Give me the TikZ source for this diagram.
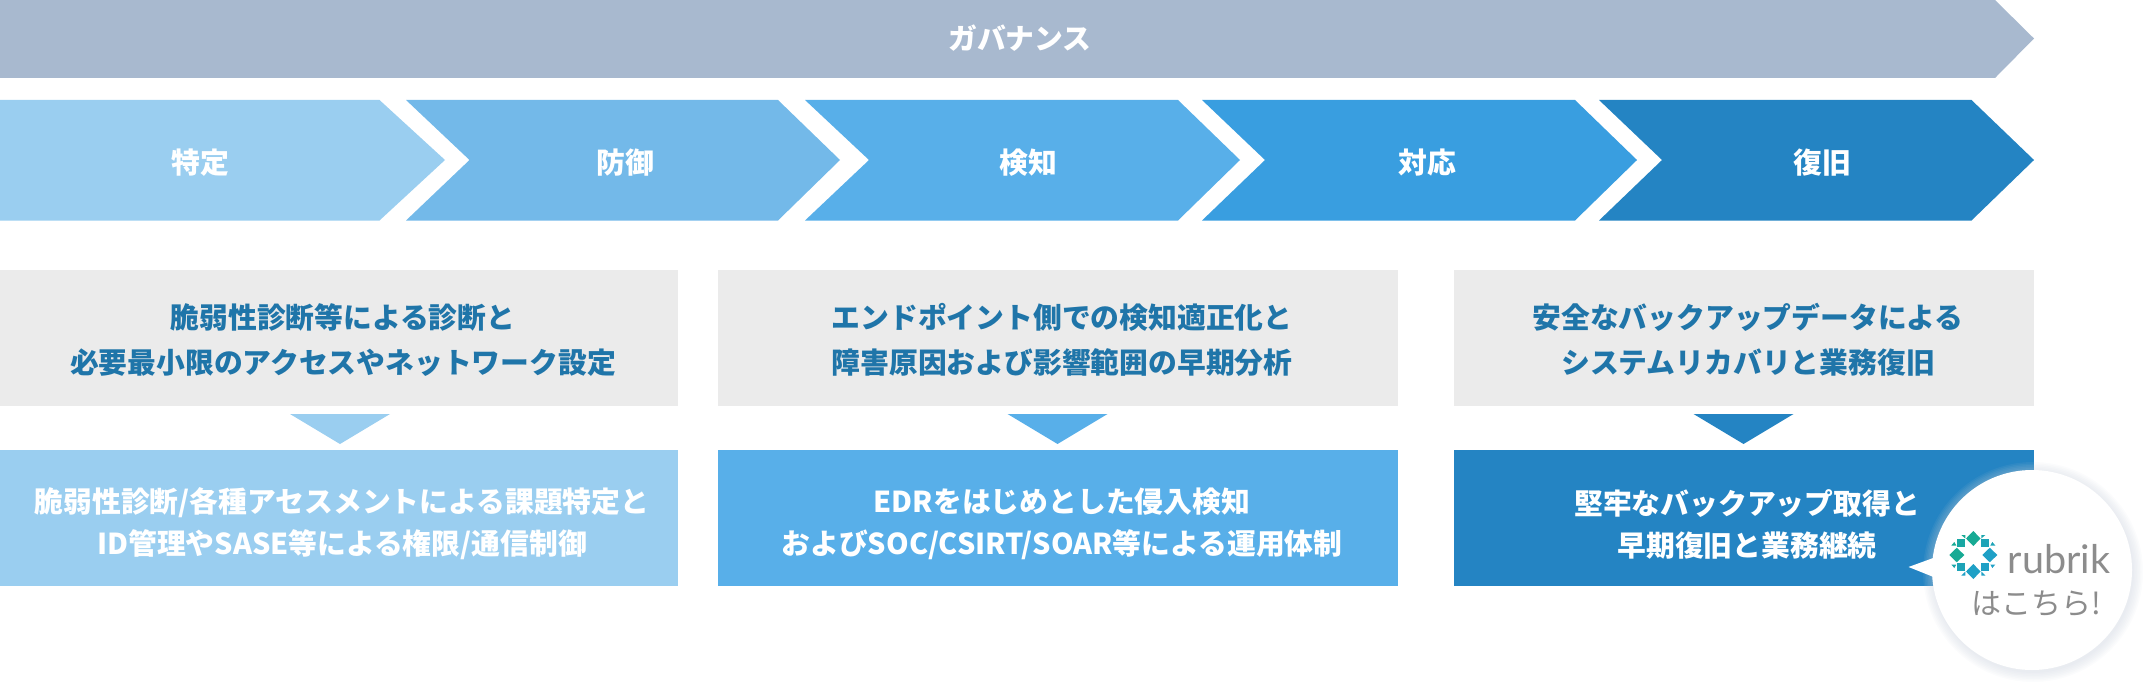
\documentclass[tikz,border=0pt]{standalone}
\usepackage{fontspec}
\usetikzlibrary{shapes.geometric}
\newfontfamily\jpfont{Noto Sans CJK JP}
\newfontfamily\logofont{Lato}
\definecolor{gov}{HTML}{A8B9CF}
\definecolor{cA}{HTML}{9ACEF0}
\definecolor{cB}{HTML}{73B9E9}
\definecolor{cC}{HTML}{58AFE9}
\definecolor{cD}{HTML}{399EE0}
\definecolor{cE}{HTML}{2484C3}
\definecolor{boxgray}{HTML}{EBEBEB}
\definecolor{ink}{HTML}{1F75A9}
\definecolor{logogray}{HTML}{8C8C8C}
\definecolor{lgA}{HTML}{17AA94}
\definecolor{lgB}{HTML}{1FA0C6}
\definecolor{glow}{HTML}{C9D0DC}
\tikzset{
  lab/.style={font=\jpfont\bfseries\fontsize{28.8}{45}\selectfont,align=center,inner sep=0pt,text=white},
  inktext/.style={lab,text=ink},
  lowtext/.style={lab,font=\jpfont\bfseries\fontsize{28.8}{42}\selectfont}
}
\begin{document}
\begin{tikzpicture}[x=1pt,y=-1pt]
\useasboundingbox (0,0) rectangle (2152,690);
% bands
\fill[gov] (0,0) -- (1995,0) -- (2034,38.5) -- (1995,78) -- (0,78) -- cycle;
\fill[cA] (0,100) -- (379.5,100) -- (445,160) -- (379.5,220.5) -- (0,220.5) -- cycle;
\fill[cB] (406,100) -- (778,100) -- (840,160) -- (778,220.5) -- (406,220.5) -- (469.5,160) -- cycle;
\fill[cC] (805,100) -- (1178,100) -- (1240,160) -- (1178,220.5) -- (805,220.5) -- (869,160) -- cycle;
\fill[cD] (1202,100) -- (1575,100) -- (1637,160) -- (1575,220.5) -- (1202,220.5) -- (1265,160) -- cycle;
\fill[cE] (1599,100) -- (1971.5,100) -- (2034,160) -- (1971.5,220.5) -- (1599,220.5) -- (1662,160) -- cycle;
\node[lab] (gv) at (1020,38) {ガバナンス};
\node[lab] (s1) at (200,163) {特定};
\node[lab] (s2) at (625.5,163) {防御};
\node[lab] (s3) at (1028,163) {検知};
\node[lab] (s4) at (1427,163) {対応};
\node[lab] (s5) at (1822,163) {復旧};
% grey boxes
\fill[boxgray] (0,270) rectangle (678,405.5);
\fill[boxgray] (718,270) rectangle (1398,405.5);
\fill[boxgray] (1453.5,270) rectangle (2034,405.5);
% triangles
\fill[cA] (290,414) -- (390,414) -- (340,444) -- cycle;
\fill[cC] (1007.5,414) -- (1107.5,414) -- (1057.5,444) -- cycle;
\fill[cE] (1693.5,414) -- (1793.5,414) -- (1743.5,444) -- cycle;
% lower boxes
\fill[cA] (0,450) rectangle (678,585.5);
\fill[cC] (718,450) rectangle (1398,585.5);
\fill[cE] (1453.5,450) rectangle (2034,585.5);
\node[inktext] (t1) at (343,340) {脆弱性診断等による診断と\\必要最小限のアクセスやネットワーク設定};
\node[inktext] (t2) at (1062,340) {エンドポイント側での検知適正化と\\障害原因および影響範囲の早期分析};
\node[inktext] (t3) at (1748,340) {安全なバックアップデータによる\\システムリカバリと業務復旧};
\node[lowtext] (b1) at (342,524) {脆弱性診断/各種アセスメントによる課題特定と\\ID管理やSASE等による権限/通信制御};
\node[lowtext] (b2) at (1062,524) {EDRをはじめとした侵入検知\\およびSOC/CSIRT/SOAR等による運用体制};
\node[lowtext] (b3) at (1747,524) {堅牢なバックアップ取得と\\早期復旧と業務継続};
% bubble shadow
\foreach \r in {110,108.5,107,105.5,104,102.5,101}
  \fill[glow,opacity=0.07] (2033,572) circle (\r);
\fill[white] (2032,570) circle (100);
\fill[white] (1908.5,567) -- (1936,557) -- (1936,578) -- cycle;
% logo
\begin{scope}[shift={(1973.3,555)}]
\fill[lgA] (0,-24) -- (7.3,-16.5) -- (0,-9) -- (-7.3,-16.5) -- cycle;
\fill[lgA] (-24,0) -- (-16.5,-7.3) -- (-9,0) -- (-16.5,7.3) -- cycle;
\fill[lgB] (24,0) -- (16.5,-7.3) -- (9,0) -- (16.5,7.3) -- cycle;
\fill[lgB] (0,24) -- (7.3,16.5) -- (0,9) -- (-7.3,16.5) -- cycle;
\fill[lgA!70!lgB] (-16,-16) rectangle (-8,-8);
\fill[lgA!30!lgB] (8,-16) rectangle (16,-8);
\fill[lgA!30!lgB] (-16,8) rectangle (-8,16);
\fill[lgB] (8,8) rectangle (16,16);
% small triangles
\fill[lgA] (-12,-20) -- (-8,-20) -- (-8,-16.5) -- cycle;
\fill[lgA!50!lgB] (12,-20) -- (8,-20) -- (8,-16.5) -- cycle;
\fill[lgA] (-22,-9.5) -- (-19,-13) -- (-17,-9.5) -- cycle;
\fill[lgA!30!lgB] (22,-9.5) -- (19,-13) -- (17,-9.5) -- cycle;
\fill[lgA!60!lgB] (-22,9.5) -- (-17,9.5) -- (-19,13) -- cycle;
\fill[lgB] (22,9.5) -- (17,9.5) -- (19,13) -- cycle;
\fill[lgB] (-12,20.5) -- (-8,16.5) -- (-8,20.5) -- cycle;
\fill[lgB] (12,20.5) -- (8,16.5) -- (8,20.5) -- cycle;
\end{scope}
\node[font=\logofont\fontsize{39.5}{39.5}\selectfont,text=logogray,inner sep=0pt] (rb) at (2059,559) {rubrik};
\node[font=\jpfont\fontsize{30}{30}\selectfont,text=logogray,inner sep=0pt] (hk) at (2036,604) {はこちら!};
\end{tikzpicture}
\end{document}
